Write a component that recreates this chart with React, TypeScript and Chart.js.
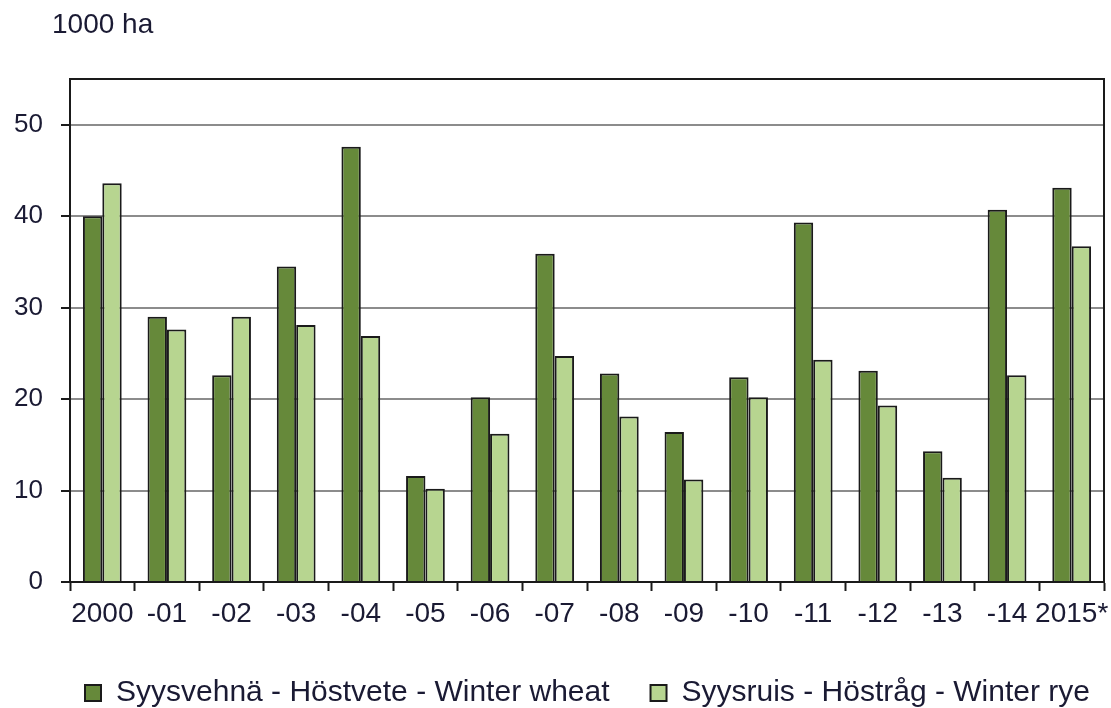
import React, { useEffect, useRef } from "react";
import { Chart, registerables } from "chart.js";

Chart.register(...registerables);

const categories = ["2000", "-01", "-02", "-03", "-04", "-05", "-06", "-07", "-08", "-09", "-10", "-11", "-12", "-13", "-14", "2015*"];
const winterWheat = [40.0, 29.0, 22.6, 34.5, 47.6, 11.6, 20.2, 35.9, 22.8, 16.4, 22.4, 39.3, 23.1, 14.3, 40.7, 43.1];
const winterRye = [43.6, 27.6, 29.0, 28.1, 26.9, 10.2, 16.2, 24.7, 18.1, 11.2, 20.2, 24.3, 19.3, 11.4, 22.6, 36.7];
const seriesLabels = ["Syysvehnä - Höstvete - Winter wheat", "Syysruis - Höstråg - Winter rye"];
const unitLabel = "1000 ha";

const FONT = "'Liberation Sans', Arial, sans-serif";
const TEXT = "#1a1a33";

export default function App() {
  const ref = useRef<HTMLCanvasElement | null>(null);
  useEffect(() => {
    if (!ref.current) return;
    const framePlugin = {
      id: "frame",
      afterLayout(chart: any) {
        if (chart.legend) {
          chart.legend.left = 44;
          chart.legend.right = 1300;
        }
      },
      afterDraw(chart: any) {
        const { ctx, chartArea } = chart;
        ctx.save();
        ctx.strokeStyle = "#1a1a1a";
        ctx.lineWidth = 2;
        ctx.strokeRect(chartArea.left, chartArea.top, chartArea.right - chartArea.left, chartArea.bottom - chartArea.top);
        ctx.fillStyle = TEXT;
        ctx.font = `28px ${FONT}`;
        ctx.textBaseline = "middle";
        ctx.textAlign = "left";
        ctx.fillText(unitLabel, 52, 25);
        ctx.restore();
      },
    };
    const chart = new Chart(ref.current, {
      type: "bar",
      data: {
        labels: categories,
        datasets: [
          {
            label: seriesLabels[0],
            data: winterWheat,
            backgroundColor: "#66893a",
            borderColor: "#1a1a1a",
            borderWidth: 2,
            categoryPercentage: 0.6,
            barPercentage: 1.0,
          },
          {
            label: seriesLabels[1],
            data: winterRye,
            backgroundColor: "#b7d590",
            borderColor: "#1a1a1a",
            borderWidth: 2,
            categoryPercentage: 0.6,
            barPercentage: 1.0,
          },
        ],
      },
      options: {
        animation: false,
        responsive: false,
        layout: { padding: { left: 0, right: 7, top: 79, bottom: -10 } },
        plugins: {
          legend: {
            position: "bottom",
            align: "start",
            labels: {
              boxWidth: 16,
              boxHeight: 16,
              padding: 41,
              color: TEXT,
              font: { family: FONT, size: 30 },
            },
          },
          tooltip: { enabled: false },
        },
        scales: {
          x: {
            offset: true,
            grid: {
              display: true,
              offset: true,
              drawOnChartArea: false,
              drawTicks: true,
              tickLength: 9,
              tickColor: "#1a1a1a",
              tickWidth: 2,
            },
            border: { display: true, color: "#1a1a1a", width: 2 },
            ticks: {
              color: TEXT,
              font: { family: FONT, size: 28 },
              padding: 6,
              maxRotation: 0,
              autoSkip: false,
            },
            afterFit: (scale: any) => {
              scale.height = 55;
              scale.paddingLeft = 0;
              scale.paddingRight = 0;
            },
          },
          y: {
            min: 0,
            max: 55,
            grid: {
              color: "#8c8c8c",
              lineWidth: 2,
              tickLength: 9,
              tickColor: "#1a1a1a",
              tickWidth: 2,
            },
            border: { display: true, color: "#1a1a1a", width: 2 },
            ticks: {
              stepSize: 10,
              includeBounds: false,
              color: TEXT,
              font: { family: FONT, size: 26 },
              padding: 18,
            },
            afterFit: (scale: any) => {
              scale.width = 70;
            },
          },
        },
      },
      plugins: [framePlugin],
    } as any);
    return () => chart.destroy();
  }, []);
  return (
    <div style={{ position: "absolute", left: 0, top: 0, width: 1111, height: 708, background: "#fff" }}>
      <canvas ref={ref} width={1111} height={708} style={{ width: 1111, height: 708 }} />
    </div>
  );
}
